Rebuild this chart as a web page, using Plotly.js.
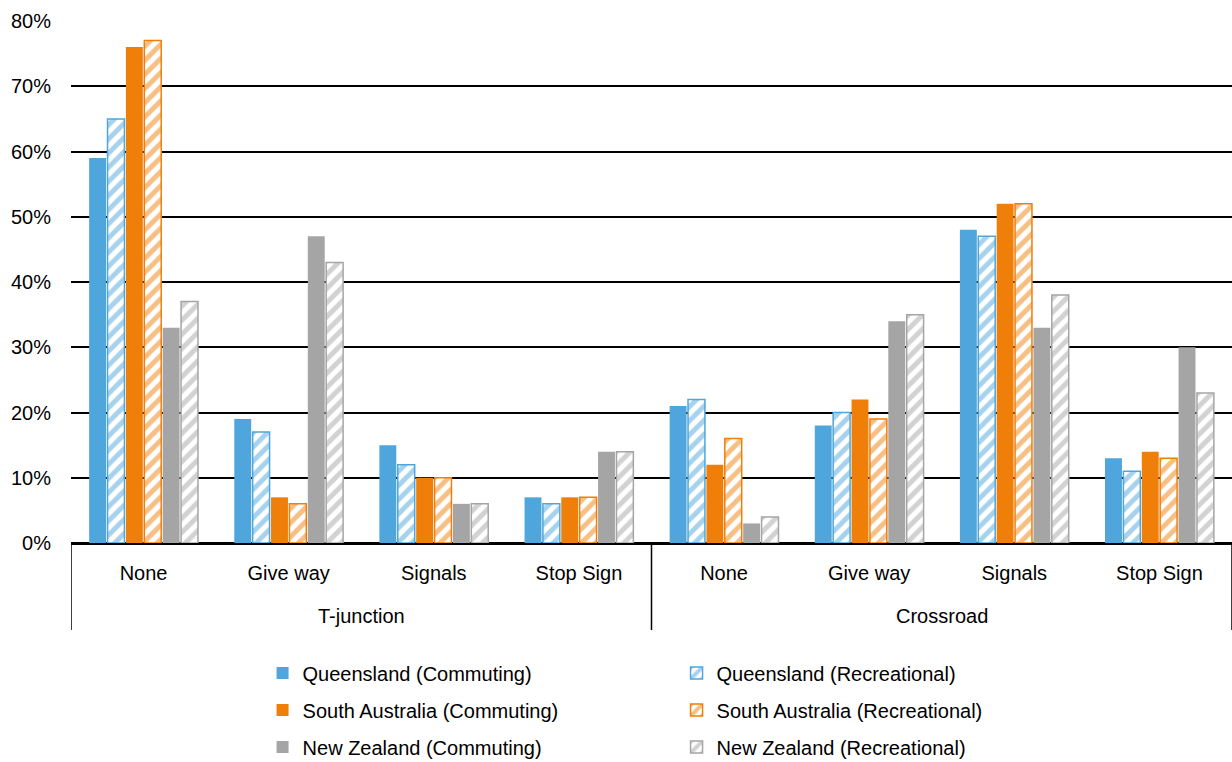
<!DOCTYPE html>
<html><head><meta charset="utf-8">
<script src="https://cdn.plot.ly/plotly-3.0.1.min.js"></script>
<style>body{margin:0;background:#fff}#chart{width:1232px;height:762px}</style>
</head><body><div id="chart"></div>
<script>
const groups = ["T-junction","T-junction","T-junction","T-junction","Crossroad","Crossroad","Crossroad","Crossroad"];
const controls = ["None","Give way","Signals","Stop Sign","None","Give way","Signals","Stop Sign"];
const seriesNames = ["Queensland (Commuting)","Queensland (Recreational)","South Australia (Commuting)","South Australia (Recreational)","New Zealand (Commuting)","New Zealand (Recreational)"];
const qldCommuting = [59,19,15,7,21,18,48,13];
const qldRecreational = [65,17,12,6,22,20,47,11];
const saCommuting = [76,7,10,7,12,22,52,14];
const saRecreational = [77,6,10,7,16,19,52,13];
const nzCommuting = [33,47,6,14,3,34,33,30];
const nzRecreational = [37,43,6,14,4,35,38,23];

const colors = ["#4EA6DC","#4EA6DC","#F07F09","#F07F09","#A5A5A5","#A5A5A5"];
const legendIds = ["legend","legend","legend2","legend2","legend3","legend3"];
const values = [qldCommuting,qldRecreational,saCommuting,saRecreational,nzCommuting,nzRecreational];
const xIdx = controls.map((_,i)=>i);
const traces = values.map((v,i)=>{
  const hatched = i%2===1;
  return {
    type:"bar", name:seriesNames[i], x:xIdx, y:v, legend:legendIds[i],
    marker: hatched ? {color:"#ffffff", line:{color:colors[i],width:1.5},
      pattern:{shape:"/", fgcolor:colors[i], bgcolor:"#ffffff", size:10, solidity:0.5, fillmode:"overlay"}}
      : {color:colors[i], line:{width:0}}
  };
});

// group spans derived from the groups array
const groupNames = [...new Set(groups)];
const spans = groupNames.map(g=>{
  const idx = groups.map((G,i)=>G===g?i:-1).filter(i=>i>=0);
  return {name:g, start:Math.min(...idx)-0.5, end:Math.max(...idx)+0.5};
});
const dividerBottom = (543-630)/522;
const shapes = [];
spans.forEach((s,k)=>{
  if(k===0) shapes.push({type:"line", xref:"x", yref:"paper", x0:s.start, x1:s.start, y0:0, y1:dividerBottom, line:{color:"#000", width:1.5}});
  shapes.push({type:"line", xref:"x", yref:"paper", x0:s.end, x1:s.end, y0:0, y1:dividerBottom, line:{color:"#000", width:1.5}});
});
const annotations = spans.map(s=>({xref:"x", yref:"paper", x:(s.start+s.end)/2, y:(543-616)/522, yanchor:"middle",
  text:s.name, showarrow:false, font:{size:20}}));

const legBase = {orientation:"h", x:0.165, xanchor:"left", yanchor:"middle", yref:"container", entrywidth:369, entrywidthmode:"pixels",
    font:{size:20}, traceorder:"normal", bgcolor:"rgba(0,0,0,0)"};
const layout = {
  width:1232, height:762,
  margin:{l:71,r:0,t:21,b:219},
  paper_bgcolor:"#fff", plot_bgcolor:"#fff",
  font:{family:"Liberation Sans, Arial, sans-serif", size:20, color:"#000"},
  barmode:"group", bargap:0.24, bargroupgap:0.08,
  showlegend:true,
  legend:Object.assign({}, legBase, {y:1-673/762}),
  legend2:Object.assign({}, legBase, {y:1-710/762}),
  legend3:Object.assign({}, legBase, {y:1-747/762}),
  shapes:shapes, annotations:annotations,
  xaxis:{range:[-0.5, controls.length-0.5], tickvals:xIdx, ticktext:controls, showline:true, linecolor:"#000", linewidth:1.5,
    ticks:"", showgrid:false, zeroline:false, tickfont:{size:20}, ticklabelstandoff:11, automargin:false},
  yaxis:{range:[0,80], dtick:10, ticksuffix:"%", showgrid:true, gridcolor:"#000", gridwidth:1.5,
    zeroline:true, zerolinecolor:"#000", zerolinewidth:1.5, showline:false, ticks:"", tickfont:{size:20}, ticklabelstandoff:19, automargin:false}
};
Plotly.newPlot("chart", traces, layout, {displayModeBar:false});
</script></body></html>
